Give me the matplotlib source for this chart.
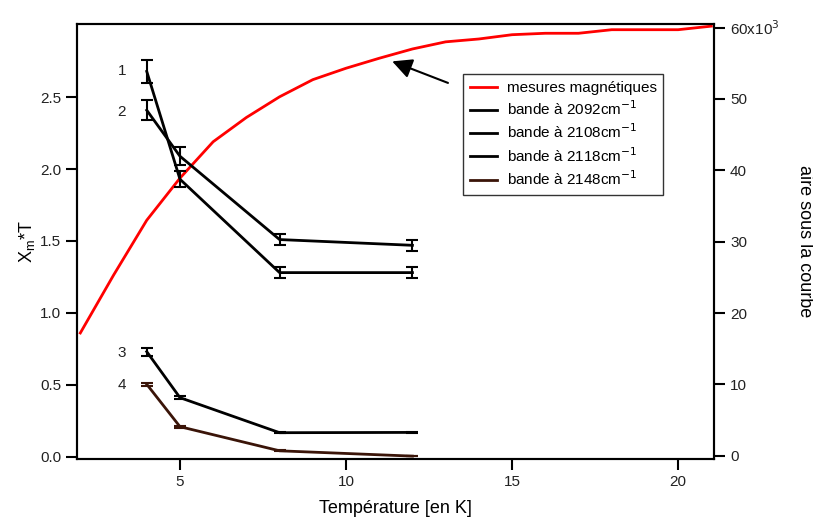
import matplotlib
matplotlib.use("Agg")
import matplotlib.pyplot as plt
from matplotlib.ticker import FixedLocator, FuncFormatter

plt.rcParams['font.family'] = ['Liberation Sans', 'DejaVu Sans']

# magnetic measurements (right axis, in units of 10^3)
mag_T = [2, 3, 4, 5, 6, 7, 8, 9, 10, 11, 12, 13, 14, 15, 16, 17, 18, 19, 20, 21]
mag_val = [17.2, 25.3, 33.0, 38.9, 44.0, 47.4, 50.3, 52.7, 54.3, 55.7, 57.0,
           58.0, 58.4, 59.0, 59.2, 59.2, 59.7, 59.7, 59.7, 60.2]

band_T = [4, 5, 8, 12]
band1 = [2.68, 1.93, 1.28, 1.28]
band1_err = [0.08, 0.055, 0.038, 0.038]
band2 = [2.41, 2.09, 1.51, 1.47]
band2_err = [0.07, 0.063, 0.04, 0.04]
band3 = [0.73, 0.41, 0.166, 0.168]
band3_err = [0.027, 0.012, 0.005, 0.003]
band4 = [0.503, 0.208, 0.04, 0.003]
band4_err = [0.012, 0.006, 0.003, 0.002]

legend_labels = ["mesures magnétiques", "bande à 2092cm$^{-1}$", "bande à 2108cm$^{-1}$",
                 "bande à 2118cm$^{-1}$", "bande à 2148cm$^{-1}$"]
curve_labels = ["1", "2", "3", "4"]

fig = plt.figure(figsize=(8.13, 5.18), dpi=100)
ax = fig.add_axes([77/813, 1-459/518, (714-77)/813, (459-24)/518])
ax2 = ax.twinx()

ax.set_zorder(2)
ax.patch.set_visible(False)

# red curve on right axis
red_line, = ax2.plot(mag_T, mag_val, color='#ff0000', lw=2)
ax2.set_ylim(-0.46, 60.5)

cols = ['black', 'black', 'black', '#3a1408']
series = [(band1, band1_err), (band2, band2_err), (band3, band3_err), (band4, band4_err)]
handles = [red_line]
for (vals, errs), c in zip(series, cols):
    h = ax.errorbar(band_T, vals, yerr=errs, color=c, lw=2, capsize=4, capthick=1.5, elinewidth=1.5)
    handles.append(h.lines[0])

ax.set_xlim(1.9, 21.08)
ax.set_ylim(-0.017, 3.01)

label_y = [2.68, 2.40, 0.72, 0.50]
for lab, y in zip(curve_labels, label_y):
    ax.text(3.25, y, lab, fontsize=11, ha='center', va='center', color='#222222')

ax.xaxis.set_major_locator(FixedLocator([5, 10, 15, 20]))
ax.yaxis.set_major_locator(FixedLocator([0.0, 0.5, 1.0, 1.5, 2.0, 2.5]))
ax.yaxis.set_major_formatter(FuncFormatter(lambda v, p: f"{v:.1f}"))
ax2.yaxis.set_major_locator(FixedLocator([0, 10, 20, 30, 40, 50, 60]))
ax2.yaxis.set_major_formatter(FuncFormatter(lambda v, p: "60x10$^{3}$" if v == 60 else f"{int(v)}"))

for a in (ax, ax2):
    for s in a.spines.values():
        s.set_linewidth(1.5)
    a.tick_params(direction='out', length=8, width=1.5, labelsize=11, colors='black', labelcolor='#222222')

ax.set_xlabel("Température [en K]", fontsize=13, labelpad=8)
ax.set_ylabel("X$_\\mathregular{m}$*T", fontsize=13, labelpad=2)
ax2.set_ylabel("aire sous la courbe", fontsize=13, rotation=-90, labelpad=24)

leg = ax.legend(handles, legend_labels, loc='upper left', bbox_to_anchor=((463-77)/637, 1-(74-24)/435),
                borderaxespad=0, fontsize=11, frameon=True, fancybox=False, edgecolor='black',
                handlelength=1.8, borderpad=0.45, labelspacing=0.3, handletextpad=0.6)
leg.get_frame().set_linewidth(1.0)

ax.annotate("", xy=(11.39, 2.75), xytext=(13.07, 2.60),
            arrowprops=dict(arrowstyle='-|>,head_length=1.2,head_width=0.6', color='black', lw=1.5,
                            shrinkA=0, shrinkB=0))

fig.savefig("out.png", dpi=100)
